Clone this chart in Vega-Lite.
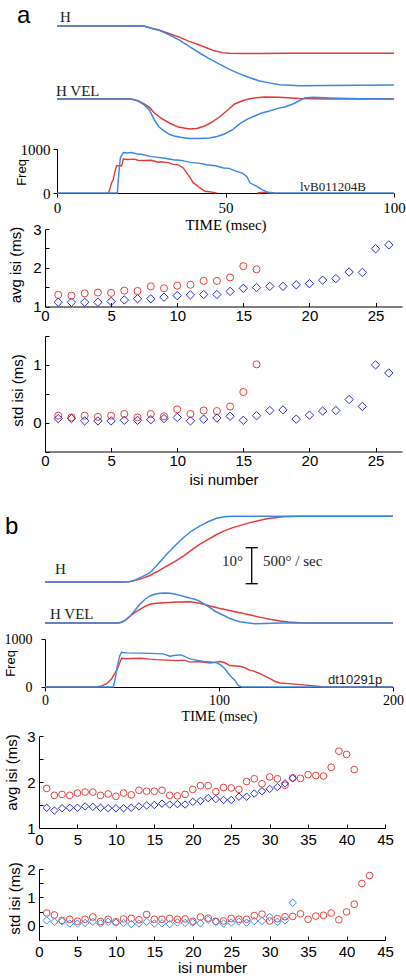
{
"$schema": "https://vega.github.io/schema/vega-lite/v6.json",
"padding": 0,
"background": "white",
"spacing": 0,
"bounds": "flush",
"columns": 2,
"align": {"row": "each", "column": "none"},
"config": {
  "view": {"stroke": null},
  "concat": {"spacing": 0},
  "axis": {"grid": false, "domainColor": "#000", "tickColor": "#000", "labelColor": "#000", "titleColor": "#000", "titleFontWeight": "normal", "domainWidth": 1, "tickWidth": 1, "labelFlush": false}
},
"resolve": {"scale": {"color": "independent", "shape": "independent", "size": "independent", "x": "independent", "y": "independent"}},
"datasets": {
  "trA": [
    {"sig":"H","g":"1","t":0,"v":0},{"sig":"H","g":"1","t":24,"v":0},{"sig":"H","g":"1","t":26,"v":-0.1},{"sig":"H","g":"1","t":28,"v":-0.6},{"sig":"H","g":"1","t":30.4,"v":-1.2},{"sig":"H","g":"1","t":33,"v":-2.0},{"sig":"H","g":"1","t":36.3,"v":-3.1},{"sig":"H","g":"1","t":39,"v":-4.2},{"sig":"H","g":"1","t":42.3,"v":-5.3},{"sig":"H","g":"1","t":44.5,"v":-6.1},{"sig":"H","g":"1","t":46.7,"v":-6.9},{"sig":"H","g":"1","t":49,"v":-7.4},{"sig":"H","g":"1","t":51.2,"v":-7.6},{"sig":"H","g":"1","t":55,"v":-7.65},{"sig":"H","g":"1","t":70,"v":-7.6},{"sig":"H","g":"1","t":100,"v":-7.55},
    {"sig":"H","g":"2","t":0,"v":0},{"sig":"H","g":"2","t":24,"v":0},{"sig":"H","g":"2","t":26,"v":-0.1},{"sig":"H","g":"2","t":28,"v":-0.6},{"sig":"H","g":"2","t":30.4,"v":-1.2},{"sig":"H","g":"2","t":33,"v":-2.3},{"sig":"H","g":"2","t":36.3,"v":-3.9},{"sig":"H","g":"2","t":39,"v":-5.5},{"sig":"H","g":"2","t":42.3,"v":-7.5},{"sig":"H","g":"2","t":45,"v":-9.0},{"sig":"H","g":"2","t":48.2,"v":-10.6},{"sig":"H","g":"2","t":51,"v":-12.0},{"sig":"H","g":"2","t":54.2,"v":-13.3},{"sig":"H","g":"2","t":57,"v":-14.3},{"sig":"H","g":"2","t":60.1,"v":-15.3},{"sig":"H","g":"2","t":63,"v":-15.8},{"sig":"H","g":"2","t":66,"v":-16.3},{"sig":"H","g":"2","t":72,"v":-16.6},{"sig":"H","g":"2","t":80,"v":-16.5},{"sig":"H","g":"2","t":100,"v":-16.4},
    {"sig":"V","g":"1","t":0,"v":0},{"sig":"V","g":"1","t":21,"v":0},{"sig":"V","g":"1","t":22.3,"v":-5},{"sig":"V","g":"1","t":24,"v":-25},{"sig":"V","g":"1","t":25.9,"v":-69},{"sig":"V","g":"1","t":27.5,"v":-120},{"sig":"V","g":"1","t":28.9,"v":-194},{"sig":"V","g":"1","t":31,"v":-270},{"sig":"V","g":"1","t":33.3,"v":-333},{"sig":"V","g":"1","t":36,"v":-390},{"sig":"V","g":"1","t":39.3,"v":-417},{"sig":"V","g":"1","t":41.5,"v":-410},{"sig":"V","g":"1","t":43.8,"v":-375},{"sig":"V","g":"1","t":46,"v":-320},{"sig":"V","g":"1","t":48.2,"v":-250},{"sig":"V","g":"1","t":50.5,"v":-160},{"sig":"V","g":"1","t":52.7,"v":-69},{"sig":"V","g":"1","t":55.7,"v":-14},{"sig":"V","g":"1","t":58,"v":10},{"sig":"V","g":"1","t":61.6,"v":28},{"sig":"V","g":"1","t":66,"v":25},{"sig":"V","g":"1","t":72,"v":7},{"sig":"V","g":"1","t":80,"v":0},{"sig":"V","g":"1","t":100,"v":0},
    {"sig":"V","g":"2","t":0,"v":0},{"sig":"V","g":"2","t":21,"v":0},{"sig":"V","g":"2","t":22.3,"v":-5},{"sig":"V","g":"2","t":24,"v":-25},{"sig":"V","g":"2","t":25.9,"v":-83},{"sig":"V","g":"2","t":27.5,"v":-160},{"sig":"V","g":"2","t":28.9,"v":-292},{"sig":"V","g":"2","t":30.3,"v":-390},{"sig":"V","g":"2","t":31.8,"v":-444},{"sig":"V","g":"2","t":33.3,"v":-490},{"sig":"V","g":"2","t":34.8,"v":-514},{"sig":"V","g":"2","t":37,"v":-535},{"sig":"V","g":"2","t":39.3,"v":-549},{"sig":"V","g":"2","t":42,"v":-549},{"sig":"V","g":"2","t":45.2,"v":-542},{"sig":"V","g":"2","t":47.5,"v":-520},{"sig":"V","g":"2","t":49.7,"v":-486},{"sig":"V","g":"2","t":52,"v":-430},{"sig":"V","g":"2","t":54.2,"v":-347},{"sig":"V","g":"2","t":56.5,"v":-280},{"sig":"V","g":"2","t":58.6,"v":-236},{"sig":"V","g":"2","t":61,"v":-190},{"sig":"V","g":"2","t":63.1,"v":-167},{"sig":"V","g":"2","t":65.5,"v":-130},{"sig":"V","g":"2","t":67.6,"v":-111},{"sig":"V","g":"2","t":70,"v":-70},{"sig":"V","g":"2","t":73.5,"v":14},{"sig":"V","g":"2","t":76,"v":24},{"sig":"V","g":"2","t":81,"v":14},{"sig":"V","g":"2","t":90,"v":5},{"sig":"V","g":"2","t":100,"v":0}
  ],
  "trB": [
    {"sig":"H","g":"1","t":0,"v":0},{"sig":"H","g":"1","t":45,"v":0},{"sig":"H","g":"1","t":49,"v":0.15},{"sig":"H","g":"1","t":52,"v":0.45},{"sig":"H","g":"1","t":56,"v":1.0},{"sig":"H","g":"1","t":60.3,"v":1.8},{"sig":"H","g":"1","t":65,"v":3.0},{"sig":"H","g":"1","t":69.9,"v":4.4},{"sig":"H","g":"1","t":75,"v":5.8},{"sig":"H","g":"1","t":79.5,"v":7.2},{"sig":"H","g":"1","t":84,"v":8.8},{"sig":"H","g":"1","t":89.1,"v":10.5},{"sig":"H","g":"1","t":94,"v":11.9},{"sig":"H","g":"1","t":98.7,"v":13.2},{"sig":"H","g":"1","t":103,"v":14.2},{"sig":"H","g":"1","t":108,"v":15.1},{"sig":"H","g":"1","t":117.8,"v":16.5},{"sig":"H","g":"1","t":127.4,"v":17.6},{"sig":"H","g":"1","t":137,"v":18.1},{"sig":"H","g":"1","t":146.6,"v":18.3},{"sig":"H","g":"1","t":200,"v":18.3},
    {"sig":"H","g":"2","t":0,"v":0},{"sig":"H","g":"2","t":45,"v":0},{"sig":"H","g":"2","t":49,"v":0.15},{"sig":"H","g":"2","t":52,"v":0.6},{"sig":"H","g":"2","t":56,"v":1.5},{"sig":"H","g":"2","t":60.3,"v":2.6},{"sig":"H","g":"2","t":65,"v":5.0},{"sig":"H","g":"2","t":69.9,"v":7.7},{"sig":"H","g":"2","t":75,"v":10.2},{"sig":"H","g":"2","t":79.5,"v":12.3},{"sig":"H","g":"2","t":84,"v":14.1},{"sig":"H","g":"2","t":89.1,"v":15.6},{"sig":"H","g":"2","t":94,"v":16.8},{"sig":"H","g":"2","t":98.7,"v":17.7},{"sig":"H","g":"2","t":103,"v":18.1},{"sig":"H","g":"2","t":108,"v":18.3},{"sig":"H","g":"2","t":200,"v":18.3},
    {"sig":"V","g":"1","t":0,"v":0},{"sig":"V","g":"1","t":42,"v":0},{"sig":"V","g":"1","t":44,"v":10},{"sig":"V","g":"1","t":46,"v":35},{"sig":"V","g":"1","t":49,"v":97},{"sig":"V","g":"1","t":51.5,"v":145},{"sig":"V","g":"1","t":54.6,"v":190},{"sig":"V","g":"1","t":57.5,"v":230},{"sig":"V","g":"1","t":60.3,"v":260},{"sig":"V","g":"1","t":64,"v":275},{"sig":"V","g":"1","t":69,"v":282},{"sig":"V","g":"1","t":76,"v":292},{"sig":"V","g":"1","t":83.3,"v":296},{"sig":"V","g":"1","t":89,"v":275},{"sig":"V","g":"1","t":94.8,"v":236},{"sig":"V","g":"1","t":100,"v":205},{"sig":"V","g":"1","t":106,"v":175},{"sig":"V","g":"1","t":112,"v":143},{"sig":"V","g":"1","t":118,"v":110},{"sig":"V","g":"1","t":124,"v":78},{"sig":"V","g":"1","t":129.3,"v":51},{"sig":"V","g":"1","t":135,"v":28},{"sig":"V","g":"1","t":140,"v":14},{"sig":"V","g":"1","t":146.6,"v":4},{"sig":"V","g":"1","t":155,"v":0},{"sig":"V","g":"1","t":200,"v":0},
    {"sig":"V","g":"2","t":0,"v":0},{"sig":"V","g":"2","t":42,"v":0},{"sig":"V","g":"2","t":44,"v":10},{"sig":"V","g":"2","t":46,"v":35},{"sig":"V","g":"2","t":49,"v":97},{"sig":"V","g":"2","t":51.5,"v":170},{"sig":"V","g":"2","t":54.6,"v":264},{"sig":"V","g":"2","t":57.5,"v":330},{"sig":"V","g":"2","t":60.3,"v":375},{"sig":"V","g":"2","t":63,"v":400},{"sig":"V","g":"2","t":66,"v":413},{"sig":"V","g":"2","t":69,"v":417},{"sig":"V","g":"2","t":72,"v":412},{"sig":"V","g":"2","t":75,"v":400},{"sig":"V","g":"2","t":77.6,"v":384},{"sig":"V","g":"2","t":81,"v":362},{"sig":"V","g":"2","t":84,"v":342},{"sig":"V","g":"2","t":86.2,"v":329},{"sig":"V","g":"2","t":89,"v":300},{"sig":"V","g":"2","t":92,"v":255},{"sig":"V","g":"2","t":94.8,"v":213},{"sig":"V","g":"2","t":98,"v":160},{"sig":"V","g":"2","t":101,"v":125},{"sig":"V","g":"2","t":103.4,"v":97},{"sig":"V","g":"2","t":106,"v":65},{"sig":"V","g":"2","t":109,"v":38},{"sig":"V","g":"2","t":112,"v":18},{"sig":"V","g":"2","t":116,"v":3},{"sig":"V","g":"2","t":120.7,"v":-10},{"sig":"V","g":"2","t":126,"v":-8},{"sig":"V","g":"2","t":135,"v":0},{"sig":"V","g":"2","t":200,"v":0}
  ],
  "frA": [
    {"g":"1","seg":"m","t":15.2,"f":0},{"g":"1","seg":"m","t":15.7,"f":90},{"g":"1","seg":"m","t":16.2,"f":230},{"g":"1","seg":"m","t":16.7,"f":300},{"g":"1","seg":"m","t":17.2,"f":490},{"g":"1","seg":"m","t":17.7,"f":620},{"g":"1","seg":"m","t":19.2,"f":620},{"g":"1","seg":"m","t":19.7,"f":770},{"g":"1","seg":"m","t":21,"f":760},{"g":"1","seg":"m","t":23,"f":770},{"g":"1","seg":"m","t":24,"f":745},{"g":"1","seg":"m","t":26,"f":740},{"g":"1","seg":"m","t":28,"f":745},{"g":"1","seg":"m","t":30,"f":700},{"g":"1","seg":"m","t":31,"f":710},{"g":"1","seg":"m","t":33,"f":690},{"g":"1","seg":"m","t":34.5,"f":650},{"g":"1","seg":"m","t":36,"f":640},{"g":"1","seg":"m","t":37.4,"f":575},{"g":"1","seg":"m","t":38.5,"f":460},{"g":"1","seg":"m","t":39.5,"f":350},{"g":"1","seg":"m","t":40.4,"f":235},{"g":"1","seg":"m","t":41.4,"f":180},{"g":"1","seg":"m","t":42.4,"f":115},{"g":"1","seg":"m","t":43.9,"f":40},{"g":"1","seg":"m","t":45,"f":30},{"g":"1","seg":"m","t":47.4,"f":0},
    {"g":"1","seg":"t","t":59.5,"f":0},{"g":"1","seg":"t","t":60.5,"f":12},{"g":"1","seg":"t","t":63.5,"f":12},{"g":"1","seg":"t","t":64.5,"f":0},
    {"g":"2","seg":"m","t":0,"f":0},{"g":"2","seg":"m","t":17.9,"f":0},{"g":"2","seg":"m","t":18.3,"f":400},{"g":"2","seg":"m","t":18.8,"f":800},{"g":"2","seg":"m","t":19.7,"f":920},{"g":"2","seg":"m","t":21,"f":910},{"g":"2","seg":"m","t":22,"f":920},{"g":"2","seg":"m","t":23.6,"f":893},{"g":"2","seg":"m","t":25,"f":880},{"g":"2","seg":"m","t":27.6,"f":832},{"g":"2","seg":"m","t":30,"f":810},{"g":"2","seg":"m","t":32,"f":790},{"g":"2","seg":"m","t":34.5,"f":757},{"g":"2","seg":"m","t":37,"f":740},{"g":"2","seg":"m","t":39.5,"f":696},{"g":"2","seg":"m","t":42,"f":680},{"g":"2","seg":"m","t":44.4,"f":643},{"g":"2","seg":"m","t":47,"f":620},{"g":"2","seg":"m","t":49.4,"f":568},{"g":"2","seg":"m","t":51,"f":560},{"g":"2","seg":"m","t":53.3,"f":491},{"g":"2","seg":"m","t":55,"f":450},{"g":"2","seg":"m","t":56.3,"f":377},{"g":"2","seg":"m","t":57.3,"f":227},{"g":"2","seg":"m","t":58.3,"f":190},{"g":"2","seg":"m","t":59.3,"f":150},{"g":"2","seg":"m","t":60.8,"f":75},{"g":"2","seg":"m","t":62.7,"f":10},{"g":"2","seg":"m","t":63.5,"f":0},{"g":"2","seg":"m","t":100,"f":0}
  ],
  "frB": [
    {"g":"1","t":0,"f":0},{"g":"1","t":29.7,"f":0},{"g":"1","t":33,"f":30},{"g":"1","t":35.4,"f":70},{"g":"1","t":38.3,"f":173},{"g":"1","t":41.2,"f":345},{"g":"1","t":43.1,"f":518},{"g":"1","t":44,"f":600},{"g":"1","t":47,"f":590},{"g":"1","t":50,"f":595},{"g":"1","t":55,"f":600},{"g":"1","t":60,"f":580},{"g":"1","t":64,"f":570},{"g":"1","t":70,"f":560},{"g":"1","t":75.7,"f":550},{"g":"1","t":80,"f":560},{"g":"1","t":83.3,"f":518},{"g":"1","t":88,"f":530},{"g":"1","t":94.8,"f":500},{"g":"1","t":100.6,"f":530},{"g":"1","t":103,"f":510},{"g":"1","t":106.3,"f":447},{"g":"1","t":112,"f":433},{"g":"1","t":115,"f":400},{"g":"1","t":117.8,"f":345},{"g":"1","t":120,"f":330},{"g":"1","t":123.6,"f":276},{"g":"1","t":126,"f":230},{"g":"1","t":129.3,"f":173},{"g":"1","t":132,"f":120},{"g":"1","t":135,"f":83},{"g":"1","t":140,"f":70},{"g":"1","t":150,"f":40},{"g":"1","t":158,"f":10},{"g":"1","t":160,"f":0},{"g":"1","t":200,"f":0},
    {"g":"2","t":0,"f":0},{"g":"2","t":39.3,"f":0},{"g":"2","t":40.5,"f":200},{"g":"2","t":41.6,"f":447},{"g":"2","t":43,"f":650},{"g":"2","t":44,"f":724},{"g":"2","t":47,"f":710},{"g":"2","t":55,"f":705},{"g":"2","t":60,"f":700},{"g":"2","t":68,"f":690},{"g":"2","t":71.8,"f":642},{"g":"2","t":75,"f":660},{"g":"2","t":78.5,"f":669},{"g":"2","t":81,"f":620},{"g":"2","t":83.3,"f":586},{"g":"2","t":87,"f":560},{"g":"2","t":91,"f":530},{"g":"2","t":95,"f":520},{"g":"2","t":98.7,"f":504},{"g":"2","t":101,"f":460},{"g":"2","t":103.4,"f":380},{"g":"2","t":106.3,"f":240},{"g":"2","t":109.2,"f":137},{"g":"2","t":111.1,"f":33},{"g":"2","t":113,"f":0},{"g":"2","t":200,"f":0}
  ],
  "ann": [
    {"p":"A","sc":"H","k":"big","txt":"a","t":-11.9,"v":0.83},
    {"p":"A","sc":"H","k":"serif","txt":"H","t":0.9,"v":1.2},
    {"p":"A","sc":"V","k":"serif","txt":"H VEL","t":-0.3,"v":42},
    {"p":"B","sc":"H","k":"big","txt":"b","t":-23,"v":13.33},
    {"p":"B","sc":"H","k":"serif","txt":"H","t":5.7,"v":2.3},
    {"p":"B","sc":"V","k":"serif","txt":"H VEL","t":2.9,"v":60},
    {"p":"B","sc":"H","k":"right","txt":"10°","t":113.8,"v":4.44},
    {"p":"B","sc":"H","k":"serif","txt":"500° / sec","t":125.3,"v":4.44},
    {"p":"FA","sc":"F","k":"serif","txt":"lvB011204B","t":72.1,"v":52},
    {"p":"FB","sc":"F","k":"sans","txt":"dt10291p","t":162.6,"v":68}
  ],
  "bar": [
    {"t":118.8,"t2":118.8,"v":-0.47,"v2":9.53},
    {"t":115.3,"t2":122.3,"v":-0.47,"v2":-0.47},
    {"t":115.3,"t2":122.3,"v":9.53,"v2":9.53}
  ],
  "avgA": [
    {"g":"1","n":1,"v":1.30},{"g":"1","n":2,"v":1.28},{"g":"1","n":3,"v":1.34},{"g":"1","n":4,"v":1.36},{"g":"1","n":5,"v":1.35},{"g":"1","n":6,"v":1.41},{"g":"1","n":7,"v":1.40},{"g":"1","n":8,"v":1.52},{"g":"1","n":9,"v":1.47},{"g":"1","n":10,"v":1.54},{"g":"1","n":11,"v":1.56},{"g":"1","n":12,"v":1.66},{"g":"1","n":13,"v":1.66},{"g":"1","n":14,"v":1.75},{"g":"1","n":15,"v":2.04},{"g":"1","n":16,"v":1.96},
    {"g":"2","n":1,"v":1.11},{"g":"2","n":2,"v":1.11},{"g":"2","n":3,"v":1.11},{"g":"2","n":4,"v":1.11},{"g":"2","n":5,"v":1.13},{"g":"2","n":6,"v":1.17},{"g":"2","n":7,"v":1.20},{"g":"2","n":8,"v":1.20},{"g":"2","n":9,"v":1.24},{"g":"2","n":10,"v":1.28},{"g":"2","n":11,"v":1.30},{"g":"2","n":12,"v":1.31},{"g":"2","n":13,"v":1.31},{"g":"2","n":14,"v":1.39},{"g":"2","n":15,"v":1.47},{"g":"2","n":16,"v":1.49},{"g":"2","n":17,"v":1.52},{"g":"2","n":18,"v":1.52},{"g":"2","n":19,"v":1.56},{"g":"2","n":20,"v":1.59},{"g":"2","n":21,"v":1.68},{"g":"2","n":22,"v":1.72},{"g":"2","n":23,"v":1.89},{"g":"2","n":24,"v":1.88},{"g":"2","n":25,"v":2.49},{"g":"2","n":26,"v":2.59}
  ],
  "stdA": [
    {"g":"1","n":1,"v":0.12},{"g":"1","n":2,"v":0.09},{"g":"1","n":3,"v":0.12},{"g":"1","n":4,"v":0.10},{"g":"1","n":5,"v":0.12},{"g":"1","n":6,"v":0.15},{"g":"1","n":7,"v":0.09},{"g":"1","n":8,"v":0.15},{"g":"1","n":9,"v":0.11},{"g":"1","n":10,"v":0.23},{"g":"1","n":11,"v":0.15},{"g":"1","n":12,"v":0.21},{"g":"1","n":13,"v":0.20},{"g":"1","n":14,"v":0.28},{"g":"1","n":15,"v":0.53},{"g":"1","n":16,"v":1.01},
    {"g":"2","n":1,"v":0.07},{"g":"2","n":2,"v":0.07},{"g":"2","n":3,"v":0.03},{"g":"2","n":4,"v":0.03},{"g":"2","n":5,"v":0.03},{"g":"2","n":6,"v":0.04},{"g":"2","n":7,"v":0.04},{"g":"2","n":8,"v":0.05},{"g":"2","n":9,"v":0.07},{"g":"2","n":10,"v":0.09},{"g":"2","n":11,"v":0.03},{"g":"2","n":12,"v":0.06},{"g":"2","n":13,"v":0.08},{"g":"2","n":14,"v":0.11},{"g":"2","n":15,"v":0.04},{"g":"2","n":16,"v":0.12},{"g":"2","n":17,"v":0.21},{"g":"2","n":18,"v":0.22},{"g":"2","n":19,"v":0.06},{"g":"2","n":20,"v":0.13},{"g":"2","n":21,"v":0.20},{"g":"2","n":22,"v":0.21},{"g":"2","n":23,"v":0.40},{"g":"2","n":24,"v":0.28},{"g":"2","n":25,"v":1.00},{"g":"2","n":26,"v":0.86}
  ],
  "avgB": [
    {"g":"1","n":1,"v":1.86},{"g":"1","n":2,"v":1.71},{"g":"1","n":3,"v":1.73},{"g":"1","n":4,"v":1.71},{"g":"1","n":5,"v":1.76},{"g":"1","n":6,"v":1.78},{"g":"1","n":7,"v":1.78},{"g":"1","n":8,"v":1.71},{"g":"1","n":9,"v":1.74},{"g":"1","n":10,"v":1.69},{"g":"1","n":11,"v":1.76},{"g":"1","n":12,"v":1.72},{"g":"1","n":13,"v":1.82},{"g":"1","n":14,"v":1.80},{"g":"1","n":15,"v":1.80},{"g":"1","n":16,"v":1.82},{"g":"1","n":17,"v":1.71},{"g":"1","n":18,"v":1.70},{"g":"1","n":19,"v":1.73},{"g":"1","n":20,"v":1.84},{"g":"1","n":21,"v":1.92},{"g":"1","n":22,"v":1.92},{"g":"1","n":23,"v":1.79},{"g":"1","n":24,"v":1.88},{"g":"1","n":25,"v":1.87},{"g":"1","n":26,"v":1.84},{"g":"1","n":27,"v":2.01},{"g":"1","n":28,"v":2.07},{"g":"1","n":29,"v":1.96},{"g":"1","n":30,"v":2.11},{"g":"1","n":31,"v":2.07},{"g":"1","n":32,"v":1.93},{"g":"1","n":33,"v":2.09},{"g":"1","n":34,"v":2.08},{"g":"1","n":35,"v":2.16},{"g":"1","n":36,"v":2.14},{"g":"1","n":37,"v":2.13},{"g":"1","n":38,"v":2.32},{"g":"1","n":39,"v":2.67},{"g":"1","n":40,"v":2.60},{"g":"1","n":41,"v":2.27},
    {"g":"2","n":1,"v":1.44},{"g":"2","n":2,"v":1.38},{"g":"2","n":3,"v":1.43},{"g":"2","n":4,"v":1.44},{"g":"2","n":5,"v":1.44},{"g":"2","n":6,"v":1.47},{"g":"2","n":7,"v":1.46},{"g":"2","n":8,"v":1.44},{"g":"2","n":9,"v":1.43},{"g":"2","n":10,"v":1.43},{"g":"2","n":11,"v":1.43},{"g":"2","n":12,"v":1.44},{"g":"2","n":13,"v":1.47},{"g":"2","n":14,"v":1.49},{"g":"2","n":15,"v":1.50},{"g":"2","n":16,"v":1.53},{"g":"2","n":17,"v":1.51},{"g":"2","n":18,"v":1.52},{"g":"2","n":19,"v":1.51},{"g":"2","n":20,"v":1.57},{"g":"2","n":21,"v":1.59},{"g":"2","n":22,"v":1.65},{"g":"2","n":23,"v":1.63},{"g":"2","n":24,"v":1.61},{"g":"2","n":25,"v":1.61},{"g":"2","n":26,"v":1.68},{"g":"2","n":27,"v":1.68},{"g":"2","n":28,"v":1.75},{"g":"2","n":29,"v":1.80},{"g":"2","n":30,"v":1.85},{"g":"2","n":31,"v":1.89},{"g":"2","n":32,"v":1.97},{"g":"2","n":33,"v":2.08}
  ],
  "stdB": [
    {"g":"1","n":1,"v":0.45},{"g":"1","n":2,"v":0.38},{"g":"1","n":3,"v":0.19},{"g":"1","n":4,"v":0.23},{"g":"1","n":5,"v":0.16},{"g":"1","n":6,"v":0.23},{"g":"1","n":7,"v":0.31},{"g":"1","n":8,"v":0.15},{"g":"1","n":9,"v":0.23},{"g":"1","n":10,"v":0.14},{"g":"1","n":11,"v":0.24},{"g":"1","n":12,"v":0.26},{"g":"1","n":13,"v":0.21},{"g":"1","n":14,"v":0.40},{"g":"1","n":15,"v":0.23},{"g":"1","n":16,"v":0.23},{"g":"1","n":17,"v":0.26},{"g":"1","n":18,"v":0.23},{"g":"1","n":19,"v":0.24},{"g":"1","n":20,"v":0.16},{"g":"1","n":21,"v":0.31},{"g":"1","n":22,"v":0.27},{"g":"1","n":23,"v":0.16},{"g":"1","n":24,"v":0.17},{"g":"1","n":25,"v":0.26},{"g":"1","n":26,"v":0.23},{"g":"1","n":27,"v":0.23},{"g":"1","n":28,"v":0.36},{"g":"1","n":29,"v":0.41},{"g":"1","n":30,"v":0.17},{"g":"1","n":31,"v":0.25},{"g":"1","n":32,"v":0.32},{"g":"1","n":33,"v":0.33},{"g":"1","n":34,"v":0.42},{"g":"1","n":35,"v":0.23},{"g":"1","n":36,"v":0.34},{"g":"1","n":37,"v":0.37},{"g":"1","n":38,"v":0.45},{"g":"1","n":39,"v":0.21},{"g":"1","n":40,"v":0.49},{"g":"1","n":41,"v":0.76},{"g":"1","n":42,"v":1.49},{"g":"1","n":43,"v":1.77},
    {"g":"2","n":1,"v":0.19},{"g":"2","n":2,"v":0.14},{"g":"2","n":3,"v":0.16},{"g":"2","n":4,"v":0.08},{"g":"2","n":5,"v":0.08},{"g":"2","n":6,"v":0.10},{"g":"2","n":7,"v":0.14},{"g":"2","n":8,"v":0.08},{"g":"2","n":9,"v":0.14},{"g":"2","n":10,"v":0.11},{"g":"2","n":11,"v":0.10},{"g":"2","n":12,"v":0.06},{"g":"2","n":13,"v":0.08},{"g":"2","n":14,"v":0.14},{"g":"2","n":15,"v":0.08},{"g":"2","n":16,"v":0.09},{"g":"2","n":17,"v":0.06},{"g":"2","n":18,"v":0.12},{"g":"2","n":19,"v":0.10},{"g":"2","n":20,"v":0.12},{"g":"2","n":21,"v":0.09},{"g":"2","n":22,"v":0.21},{"g":"2","n":23,"v":0.14},{"g":"2","n":24,"v":0.08},{"g":"2","n":25,"v":0.11},{"g":"2","n":26,"v":0.15},{"g":"2","n":27,"v":0.11},{"g":"2","n":28,"v":0.17},{"g":"2","n":29,"v":0.17},{"g":"2","n":30,"v":0.31},{"g":"2","n":31,"v":0.14},{"g":"2","n":32,"v":0.19},{"g":"2","n":33,"v":0.81}
  ]
},
"concat": [
    {"width": 39, "height": 149, "data": {"values": [{}]}, "mark": {"type": "point", "opacity": 0}},
    {"width": 355, "height": 149,
     "resolve": {"scale": {"y": "independent"}},
     "layer": [
      {"layer": [
        {"data": {"name": "trA"}, "transform": [{"filter": "datum.sig == 'H'"}],
         "mark": {"type": "line", "strokeWidth": 1.5},
         "encoding": {
           "x": {"field": "t", "type": "quantitative", "scale": {"domain": [0, 100], "range": [18, 355], "nice": false}, "axis": null},
           "y": {"field": "v", "type": "quantitative", "scale": {"domain": [-34.17, 7.22], "nice": false, "zero": false}, "axis": null},
           "color": {"field": "g", "type": "nominal", "scale": {"domain": ["1", "2"], "range": ["#e23b3b", "#3a88e0"]}, "legend": null}}},
        {"data": {"name": "ann"}, "transform": [{"filter": "datum.p == 'A' && datum.sc == 'H' && datum.k == 'big'"}],
         "mark": {"type": "text", "font": "Liberation Sans", "fontSize": 24, "align": "left", "baseline": "alphabetic", "color": "#000"},
         "encoding": {"x": {"field": "t", "type": "quantitative", "axis": null}, "y": {"field": "v", "type": "quantitative", "axis": null}, "text": {"field": "txt"}}},
        {"data": {"name": "ann"}, "transform": [{"filter": "datum.p == 'A' && datum.sc == 'H' && datum.k == 'serif'"}],
         "mark": {"type": "text", "font": "Liberation Serif", "fontSize": 15, "align": "left", "baseline": "alphabetic", "color": "#222"},
         "encoding": {"x": {"field": "t", "type": "quantitative", "axis": null}, "y": {"field": "v", "type": "quantitative", "axis": null}, "text": {"field": "txt"}}}
      ]},
      {"layer": [
        {"data": {"name": "trA"}, "transform": [{"filter": "datum.sig == 'V'"}],
         "mark": {"type": "line", "strokeWidth": 1.5},
         "encoding": {
           "x": {"field": "t", "type": "quantitative", "scale": {"domain": [0, 100], "range": [18, 355], "nice": false}, "axis": null},
           "y": {"field": "v", "type": "quantitative", "scale": {"domain": [-694.4, 1375], "nice": false, "zero": false}, "axis": null},
           "color": {"field": "g", "type": "nominal", "scale": {"domain": ["1", "2"], "range": ["#e23b3b", "#3a88e0"]}, "legend": null}}},
        {"data": {"name": "ann"}, "transform": [{"filter": "datum.p == 'A' && datum.sc == 'V'"}],
         "mark": {"type": "text", "font": "Liberation Serif", "fontSize": 15, "align": "left", "baseline": "alphabetic", "color": "#222"},
         "encoding": {"x": {"field": "t", "type": "quantitative", "axis": null}, "y": {"field": "v", "type": "quantitative", "axis": null}, "text": {"field": "txt"}}}
      ]}
     ]},
    {"width": 39, "height": 79.5, "data": {"values": [{}]}, "mark": {"type": "point", "opacity": 0}},
    {"width": 355, "height": 44,
     "layer": [
      {"data": {"name": "frA"},
       "mark": {"type": "line", "strokeWidth": 1.4},
       "encoding": {
         "x": {"field": "t", "type": "quantitative", "scale": {"domain": [0, 100], "range": [18, 355], "nice": false},
               "axis": {"values": [0, 50, 100], "title": "TIME (msec)", "titleFont": "Liberation Serif", "titleFontSize": 15, "titleY": 31, "titleBaseline": "middle", "labelFont": "Liberation Serif", "labelFontSize": 15, "tickSize": 4, "labelPadding": 3, "labelOverlap": false}},
         "y": {"field": "f", "type": "quantitative", "scale": {"domain": [0, 1000], "nice": false},
               "axis": {"values": [0, 250, 500, 750, 1000], "labelExpr": "abs(datum.value) < 1 || abs(datum.value - 1000) < 1 ? format(round(datum.value), 'd') : ''", "offset": -18, "title": "Freq", "titleFont": "Liberation Sans", "titleFontSize": 13, "titleX": -36, "titleY": 23, "titleAlign": "center", "titleBaseline": "middle", "labelFont": "Liberation Serif", "labelFontSize": 15, "tickSize": 4, "labelPadding": 3, "labelOverlap": false}},
         "color": {"field": "g", "type": "nominal", "scale": {"domain": ["1", "2"], "range": ["#e23b3b", "#3a88e0"]}, "legend": null},
         "detail": {"field": "seg"}}},
      {"data": {"name": "ann"}, "transform": [{"filter": "datum.p == 'FA'"}],
       "mark": {"type": "text", "font": "Liberation Serif", "fontSize": 13, "align": "left", "baseline": "alphabetic", "color": "#222"},
       "encoding": {"x": {"field": "t", "type": "quantitative"}, "y": {"field": "v", "type": "quantitative"}, "text": {"field": "txt"}}}
     ]},
    {"width": 39, "height": 106.5, "data": {"values": [{}]}, "mark": {"type": "point", "opacity": 0}},
    {"width": 363, "height": 77.5,
     "data": {"name": "avgA"},
     "mark": {"type": "point", "filled": false, "strokeWidth": 1, "opacity": 1},
     "encoding": {
       "x": {"field": "n", "type": "quantitative", "scale": {"domain": [0, 27], "range": [6, 363], "nice": false},
             "axis": {"values": [0, 5, 10, 15, 20, 25], "title": null, "labelFont": "Liberation Sans", "labelFontSize": 15, "tickSize": -4, "labelPadding": 6, "labelOverlap": false}},
       "y": {"field": "v", "type": "quantitative", "scale": {"domain": [1, 3], "nice": false, "zero": false},
             "axis": {"values": [1, 1.5, 2, 2.5, 3], "labelExpr": "abs(datum.value - round(datum.value)) < 0.01 ? format(round(datum.value), 'd') : ''", "offset": -6, "title": "avg isi (ms)", "titleFont": "Liberation Sans", "titleFontSize": 15, "titleX": -30, "titleY": 35.5, "titleAlign": "center", "titleBaseline": "middle", "labelFont": "Liberation Sans", "labelFontSize": 15, "tickSize": -4, "labelPadding": 8, "labelOverlap": false, "labelSeparation": 0, "labelBound": false}},
       "color": {"field": "g", "type": "nominal", "scale": {"domain": ["1", "2"], "range": ["#e24040", "#2a2acc"]}, "legend": null},
       "shape": {"field": "g", "type": "nominal", "scale": {"domain": ["1", "2"], "range": ["circle", "diamond"]}, "legend": null},
       "size": {"field": "g", "type": "ordinal", "scale": {"domain": ["1", "2"], "range": [50, 70]}, "legend": null}}},
    {"width": 39, "height": 155, "data": {"values": [{}]}, "mark": {"type": "point", "opacity": 0}},
    {"width": 363, "height": 115.5,
     "data": {"name": "stdA"},
     "mark": {"type": "point", "filled": false, "strokeWidth": 1, "opacity": 1},
     "encoding": {
       "x": {"field": "n", "type": "quantitative", "scale": {"domain": [0, 27], "range": [6, 363], "nice": false},
             "axis": {"values": [0, 5, 10, 15, 20, 25], "title": "isi number", "titleFont": "Liberation Sans", "titleFontSize": 15, "titleY": 27.5, "titleBaseline": "middle", "labelFont": "Liberation Sans", "labelFontSize": 15, "tickSize": -4, "labelPadding": 6, "labelOverlap": false}},
       "y": {"field": "v", "type": "quantitative", "scale": {"domain": [-0.5, 1.5], "nice": false, "zero": false},
             "axis": {"values": [-0.5, 0, 0.5, 1, 1.5], "labelExpr": "abs(datum.value - round(datum.value)) < 0.01 ? format(round(datum.value), 'd') : ''", "offset": -6, "title": "std isi (ms)", "titleFont": "Liberation Sans", "titleFontSize": 15, "titleX": -27.5, "titleY": 54, "titleAlign": "center", "titleBaseline": "middle", "labelFont": "Liberation Sans", "labelFontSize": 15, "tickSize": -4, "labelPadding": 8, "labelOverlap": false, "labelSeparation": 0, "labelBound": false}},
       "color": {"field": "g", "type": "nominal", "scale": {"domain": ["1", "2"], "range": ["#e24040", "#2a2acc"]}, "legend": null},
       "shape": {"field": "g", "type": "nominal", "scale": {"domain": ["1", "2"], "range": ["circle", "diamond"]}, "legend": null},
       "size": {"field": "g", "type": "ordinal", "scale": {"domain": ["1", "2"], "range": [50, 70]}, "legend": null}}},
    {"width": 39, "height": 148, "data": {"values": [{}]}, "mark": {"type": "point", "opacity": 0}},
    {"width": 354, "height": 148,
     "resolve": {"scale": {"y": "independent"}},
     "layer": [
      {"layer": [
        {"data": {"name": "trB"}, "transform": [{"filter": "datum.sig == 'H'"}],
         "mark": {"type": "line", "strokeWidth": 1.5},
         "encoding": {
           "x": {"field": "t", "type": "quantitative", "scale": {"domain": [0, 200], "range": [6, 354], "nice": false}, "axis": null},
           "y": {"field": "v", "type": "quantitative", "scale": {"domain": [-15.83, 25.28], "nice": false, "zero": false}, "axis": null},
           "color": {"field": "g", "type": "nominal", "scale": {"domain": ["1", "2"], "range": ["#e23b3b", "#3a88e0"]}, "legend": null}}},
        {"data": {"name": "bar"},
         "mark": {"type": "rule", "color": "#000", "strokeWidth": 1.3},
         "encoding": {"x": {"field": "t", "type": "quantitative", "axis": null}, "x2": {"field": "t2"}, "y": {"field": "v", "type": "quantitative", "axis": null}, "y2": {"field": "v2"}}},
        {"data": {"name": "ann"}, "transform": [{"filter": "datum.p == 'B' && datum.sc == 'H' && datum.k == 'big'"}],
         "mark": {"type": "text", "font": "Liberation Sans", "fontSize": 24, "align": "left", "baseline": "alphabetic", "color": "#000"},
         "encoding": {"x": {"field": "t", "type": "quantitative", "axis": null}, "y": {"field": "v", "type": "quantitative", "axis": null}, "text": {"field": "txt"}}},
        {"data": {"name": "ann"}, "transform": [{"filter": "datum.p == 'B' && datum.sc == 'H' && datum.k == 'serif'"}],
         "mark": {"type": "text", "font": "Liberation Serif", "fontSize": 15, "align": "left", "baseline": "alphabetic", "color": "#222"},
         "encoding": {"x": {"field": "t", "type": "quantitative", "axis": null}, "y": {"field": "v", "type": "quantitative", "axis": null}, "text": {"field": "txt"}}},
        {"data": {"name": "ann"}, "transform": [{"filter": "datum.p == 'B' && datum.sc == 'H' && datum.k == 'right'"}],
         "mark": {"type": "text", "font": "Liberation Serif", "fontSize": 15, "align": "right", "baseline": "alphabetic", "color": "#222"},
         "encoding": {"x": {"field": "t", "type": "quantitative", "axis": null}, "y": {"field": "v", "type": "quantitative", "axis": null}, "text": {"field": "txt"}}}
      ]},
      {"layer": [
        {"data": {"name": "trB"}, "transform": [{"filter": "datum.sig == 'V'"}],
         "mark": {"type": "line", "strokeWidth": 1.5},
         "encoding": {
           "x": {"field": "t", "type": "quantitative", "scale": {"domain": [0, 200], "range": [6, 354], "nice": false}, "axis": null},
           "y": {"field": "v", "type": "quantitative", "scale": {"domain": [-222.2, 1833.3], "nice": false, "zero": false}, "axis": null},
           "color": {"field": "g", "type": "nominal", "scale": {"domain": ["1", "2"], "range": ["#e23b3b", "#3a88e0"]}, "legend": null}}},
        {"data": {"name": "ann"}, "transform": [{"filter": "datum.p == 'B' && datum.sc == 'V'"}],
         "mark": {"type": "text", "font": "Liberation Serif", "fontSize": 15, "align": "left", "baseline": "alphabetic", "color": "#222"},
         "encoding": {"x": {"field": "t", "type": "quantitative", "axis": null}, "y": {"field": "v", "type": "quantitative", "axis": null}, "text": {"field": "txt"}}}
      ]}
     ]},
    {"width": 39, "height": 97, "data": {"values": [{}]}, "mark": {"type": "point", "opacity": 0}},
    {"width": 354, "height": 48,
     "layer": [
      {"data": {"name": "frB"},
       "mark": {"type": "line", "strokeWidth": 1.4},
       "encoding": {
         "x": {"field": "t", "type": "quantitative", "scale": {"domain": [0, 200], "range": [6, 354], "nice": false},
               "axis": {"values": [0, 100, 200], "title": "TIME (msec)", "titleFont": "Liberation Serif", "titleFontSize": 14, "titleY": 29, "titleBaseline": "middle", "labelFont": "Liberation Serif", "labelFontSize": 14, "tickSize": 4, "labelPadding": 2, "labelOverlap": false}},
         "y": {"field": "f", "type": "quantitative", "scale": {"domain": [0, 1000], "nice": false},
               "axis": {"values": [0, 250, 500, 750, 1000], "labelExpr": "abs(datum.value) < 1 || abs(datum.value - 1000) < 1 ? format(round(datum.value), 'd') : ''", "offset": -6, "title": "Freq", "titleFont": "Liberation Sans", "titleFontSize": 13, "titleX": -35, "titleY": 24, "titleAlign": "center", "titleBaseline": "middle", "labelFont": "Liberation Serif", "labelFontSize": 14, "tickSize": 4, "labelPadding": 9, "labelOverlap": false}},
         "color": {"field": "g", "type": "nominal", "scale": {"domain": ["1", "2"], "range": ["#e23b3b", "#3a88e0"]}, "legend": null}}},
      {"data": {"name": "ann"}, "transform": [{"filter": "datum.p == 'FB'"}],
       "mark": {"type": "text", "font": "Liberation Sans", "fontSize": 13, "align": "left", "baseline": "alphabetic", "color": "#222"},
       "encoding": {"x": {"field": "t", "type": "quantitative"}, "y": {"field": "v", "type": "quantitative"}, "text": {"field": "txt"}}}
     ]},
    {"width": 39, "height": 133, "data": {"values": [{}]}, "mark": {"type": "point", "opacity": 0}},
    {"width": 346, "height": 92,
     "data": {"name": "avgB"},
     "mark": {"type": "point", "filled": false, "strokeWidth": 1, "opacity": 1},
     "encoding": {
       "x": {"field": "n", "type": "quantitative", "scale": {"domain": [0, 45], "nice": false},
             "axis": {"values": [0, 5, 10, 15, 20, 25, 30, 35, 40, 45], "title": null, "labelFont": "Liberation Sans", "labelFontSize": 15, "tickSize": -4, "labelPadding": 8, "labelOverlap": false}},
       "y": {"field": "v", "type": "quantitative", "scale": {"domain": [1, 3], "nice": false, "zero": false},
             "axis": {"values": [1, 1.5, 2, 2.5, 3], "labelExpr": "abs(datum.value - round(datum.value)) < 0.01 ? format(round(datum.value), 'd') : ''", "title": "avg isi (ms)", "titleFont": "Liberation Sans", "titleFontSize": 15, "titleX": -28, "titleY": 36, "titleAlign": "center", "titleBaseline": "middle", "labelFont": "Liberation Sans", "labelFontSize": 15, "tickSize": -4, "labelPadding": 8, "labelOverlap": false, "labelSeparation": 0, "labelBound": false}},
       "color": {"field": "g", "type": "nominal", "scale": {"domain": ["1", "2"], "range": ["#e24040", "#2a2acc"]}, "legend": null},
       "shape": {"field": "g", "type": "nominal", "scale": {"domain": ["1", "2"], "range": ["circle", "diamond"]}, "legend": null},
       "size": {"field": "g", "type": "ordinal", "scale": {"domain": ["1", "2"], "range": [45, 55]}, "legend": null}}},
    {"width": 39, "height": 71, "data": {"values": [{}]}, "mark": {"type": "point", "opacity": 0}},
    {"width": 346, "height": 71,
     "data": {"name": "stdB"},
     "mark": {"type": "point", "filled": false, "strokeWidth": 1, "opacity": 1},
     "encoding": {
       "x": {"field": "n", "type": "quantitative", "scale": {"domain": [0, 45], "nice": false},
             "axis": {"values": [0, 5, 10, 15, 20, 25, 30, 35, 40, 45], "title": "isi number", "titleFont": "Liberation Sans", "titleFontSize": 15, "titleY": 27.5, "titleBaseline": "middle", "labelFont": "Liberation Sans", "labelFontSize": 15, "tickSize": -4, "labelPadding": 8, "labelOverlap": false}},
       "y": {"field": "v", "type": "quantitative", "scale": {"domain": [-0.5, 2], "nice": false, "zero": false},
             "axis": {"values": [-0.5, 0, 0.5, 1, 1.5, 2], "labelExpr": "abs(datum.value - round(datum.value)) < 0.01 ? format(round(datum.value), 'd') : ''", "title": "std isi (ms)", "titleFont": "Liberation Sans", "titleFontSize": 15, "titleX": -25, "titleY": 29, "titleAlign": "center", "titleBaseline": "middle", "labelFont": "Liberation Sans", "labelFontSize": 15, "tickSize": -4, "labelPadding": 8, "labelOverlap": false, "labelSeparation": 0, "labelBound": false}},
       "color": {"field": "g", "type": "nominal", "scale": {"domain": ["1", "2"], "range": ["#e24040", "#3d8fe0"]}, "legend": null},
       "shape": {"field": "g", "type": "nominal", "scale": {"domain": ["1", "2"], "range": ["circle", "diamond"]}, "legend": null},
       "size": {"field": "g", "type": "ordinal", "scale": {"domain": ["1", "2"], "range": [45, 55]}, "legend": null}}}
]
}
